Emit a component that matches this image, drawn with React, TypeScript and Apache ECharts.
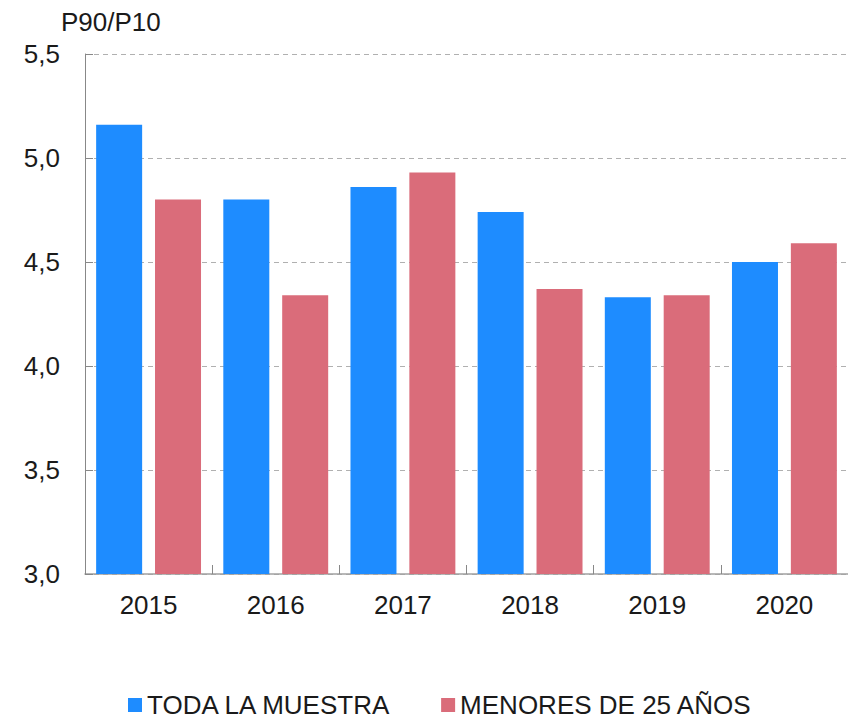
import React, { useEffect, useRef } from "react";
import * as echarts from "echarts";

const categories = ["2015", "2016", "2017", "2018", "2019", "2020"];
const todaLaMuestra = [5.16, 4.8, 4.86, 4.74, 4.33, 4.5];
const menores25 = [4.8, 4.34, 4.93, 4.37, 4.34, 4.59];
const seriesNames = ["TODA LA MUESTRA", "MENORES DE 25 AÑOS"];
const yTitle = "P90/P10";

const FONT = "'Liberation Sans', Arial, Helvetica, sans-serif";

export default function App() {
  const ref = useRef<HTMLDivElement>(null);
  useEffect(() => {
    const chart = echarts.init(ref.current!, null, { renderer: "svg" });
    chart.setOption({
      animation: false,
      textStyle: { fontFamily: FONT },
      title: {
        text: yTitle,
        left: 56,
        top: 4,
        textStyle: { fontFamily: FONT, fontSize: 26, fontWeight: "normal", color: "#1a1a1a" },
      },
      legend: {
        left: 128,
        top: 692,
        itemWidth: 14,
        itemHeight: 14,
        itemGap: 49,
        icon: "rect",
        padding: 0,
        textStyle: { fontFamily: FONT, fontSize: 26, color: "#1a1a1a", lineHeight: 26 },
        data: seriesNames,
      },
      grid: { left: 85, top: 54, width: 772, bottom: 147, containLabel: false },
      xAxis: {
        type: "category",
        data: categories,
        axisLine: { lineStyle: { color: "#a0a0a0", width: 1.5 } },
        axisTick: { show: true, inside: true, length: 9, lineStyle: { color: "#888" } },
        axisLabel: { fontFamily: FONT, fontSize: 26, color: "#1a1a1a", margin: 18 },
      },
      yAxis: {
        type: "value",
        min: 3,
        max: 5.5,
        interval: 0.5,
        axisLine: { show: true, lineStyle: { color: "#888", width: 1 } },
        axisTick: { show: true, inside: true, length: 8, lineStyle: { color: "#888" } },
        axisLabel: {
          fontFamily: FONT,
          fontSize: 26,
          color: "#1a1a1a",
          margin: 25,
          formatter: (v: number) => v.toFixed(1).replace(".", ","),
        },
        splitLine: { show: true, lineStyle: { color: "#b0b0b0", type: [5, 4], width: 1 } },
      },
      series: [
        {
          name: seriesNames[0],
          type: "bar",
          data: todaLaMuestra,
          barWidth: 46,
          barGap: "28%",
          itemStyle: { color: "#1E8CFF" },
        },
        {
          name: seriesNames[1],
          type: "bar",
          data: menores25,
          barWidth: 46,
          barGap: "28%",
          itemStyle: { color: "#DA6C7A" },
        },
      ],
    });
    return () => chart.dispose();
  }, []);
  return (
    <div
      ref={ref}
      style={{ position: "fixed", left: 0, top: 0, width: 848, height: 721, background: "#fff" }}
    />
  );
}
